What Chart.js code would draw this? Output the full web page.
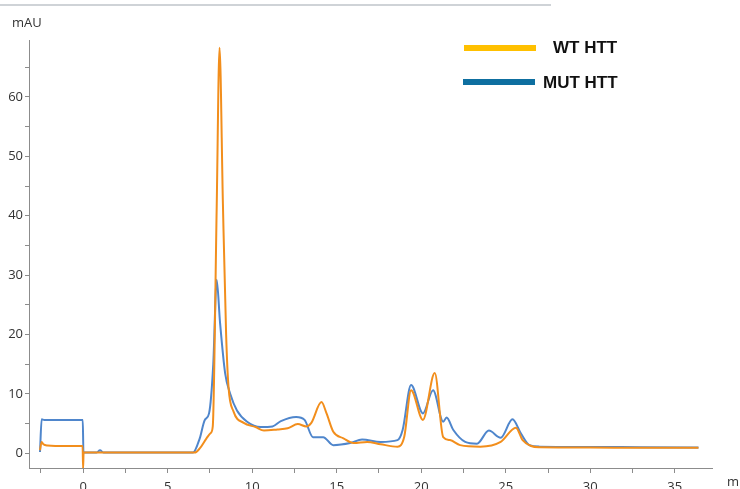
<!DOCTYPE html>
<html lang="en">
<head>
    <meta charset="UTF-8">
    <title>HTT chromatogram</title>
    <script src="https://cdn.jsdelivr.net/npm/chart.js"></script>
    <style>
        body { margin: 0; background: #fff; }
        .wrap { position: relative; width: 740px; height: 489px; overflow: hidden; }
        .topline { position: absolute; left: 0; top: 4px; width: 551px; height: 2px; background: #cfd3d7; }
        .unit { position: absolute; font-family: "Open Sans", sans-serif; font-size: 13px; color: #333; }
        .legend-line { position: absolute; height: 6px; }
        .legend-text { position: absolute; font-family: "Liberation Sans", Arial, sans-serif; font-weight: bold; font-size: 17px; color: #111; }
    </style>
</head>
<body>
    <div class="wrap">
        <canvas id="chart" width="740" height="489"></canvas>
        <div class="topline"></div>
        <div class="unit" style="left:12px; top:13px;">mAU</div>
        <div class="unit" style="left:727px; top:472px;">ml</div>
        <!-- Legend -->
        <div class="legend-line" style="left:464px; top:45px; width:72px; background:#ffc000;"></div>
        <div class="legend-text" style="left:553px; top:38px;">WT HTT</div>
        <div class="legend-line" style="left:463px; top:79px; width:72px; background:#0e6fa0;"></div>
        <div class="legend-text" style="left:543px; top:73px;">MUT HTT</div>
    </div>

    <script>
        // WT HTT trace (orange)
        const wtX = [-2.55, -2.45, -2.35, -2.1, -1, -0.03, 0, 0.03, 1, 3, 6.6, 6.9, 7.3, 7.55, 7.67, 7.9, 8.07, 8.27, 8.46, 8.6, 8.9, 9.5, 10.2, 10.7, 11.5, 12.1, 12.7, 13.2, 13.5, 14.1, 14.4, 14.8, 15.4, 16.0, 16.8, 17.6, 18.6, 19.0, 19.4, 20.1, 20.8, 21.3, 21.7, 22.3, 23.5, 24.7, 25.6, 26.0, 26.5, 27, 30, 33, 36.4];
        const wtY = [0.5, 1.9, 1.5, 1.3, 1.2, 1.2, -2.6, 0.1, 0.1, 0.1, 0.1, 0.8, 2.5, 3.4, 4.5, 41, 68.3, 42, 20, 11.2, 7.0, 5.1, 4.4, 3.8, 4.0, 4.2, 4.9, 4.5, 5.1, 8.6, 6.7, 3.6, 2.5, 1.7, 1.9, 1.5, 1.1, 2.8, 10.6, 5.6, 13.5, 2.7, 2.2, 1.35, 1.1, 1.9, 4.3, 2.2, 1.2, 1.0, 0.95, 0.9, 0.9];

        // MUT HTT trace (blue)
        const mutX = [-2.55, -2.45, -2.3, -1, -0.02, 0.02, 0.8, 1.0, 1.2, 3, 6.5, 6.9, 7.2, 7.45, 7.7, 7.9, 8.1, 8.4, 8.7, 9.1, 9.7, 10.5, 11.2, 11.7, 12.6, 13.1, 13.6, 14.2, 14.8, 15.8, 16.5, 17.6, 18.6, 18.9, 19.4, 20.1, 20.7, 21.3, 21.5, 21.9, 22.6, 23.3, 24.0, 24.7, 25.4, 25.9, 26.4, 27, 30, 33, 36.4];
        const mutY = [0.2, 5.7, 5.6, 5.6, 5.6, 0.1, 0.1, 0.5, 0.1, 0.1, 0.1, 2.5, 5.6, 6.7, 15, 29.2, 22, 13.5, 10, 7.2, 5.3, 4.4, 4.5, 5.4, 6.1, 5.6, 2.7, 2.7, 1.35, 1.7, 2.3, 1.9, 2.2, 3.9, 11.5, 6.7, 10.6, 5.3, 6.0, 3.9, 1.9, 1.6, 3.8, 2.6, 5.7, 3.3, 1.35, 1.1, 1.05, 1.0, 0.96];

        // Axis ticks
        const xTicks = [-2.5, 0, 2.5, 5, 7.5, 10, 12.5, 15, 17.5, 20, 22.5, 25, 27.5, 30, 32.5, 35];
        const yTicks = [0, 5, 10, 15, 20, 25, 30, 35, 40, 45, 50, 55, 60, 65];

        function toPoints(xs, ys) {
            return xs.map((x, i) => ({ x: x, y: ys[i] }));
        }

        const axisColor = '#8c8c8c';
        const tickFont = { family: '"Open Sans", sans-serif', size: 13 };

        new Chart(document.getElementById('chart'), {
            type: 'line',
            data: {
                datasets: [
                    {
                        label: 'WT HTT',
                        data: toPoints(wtX, wtY),
                        borderColor: '#f28e1c',
                        borderWidth: 2,
                        pointRadius: 0,
                        cubicInterpolationMode: 'monotone'
                    },
                    {
                        label: 'MUT HTT',
                        data: toPoints(mutX, mutY),
                        borderColor: '#4f86cc',
                        borderWidth: 2,
                        pointRadius: 0,
                        cubicInterpolationMode: 'monotone'
                    }
                ]
            },
            options: {
                responsive: false,
                animation: false,
                layout: { padding: { left: 0, right: 28, top: 40, bottom: 0 } },
                plugins: { legend: { display: false }, tooltip: { enabled: false } },
                scales: {
                    x: {
                        type: 'linear',
                        min: -3.2,
                        max: 37.2,
                        afterBuildTicks: s => { s.ticks = xTicks.map(v => ({ value: v })); },
                        afterFit: s => { s.height = 21; },
                        border: { color: axisColor, width: 1 },
                        grid: { drawOnChartArea: false, tickLength: 5, color: axisColor },
                        ticks: {
                            autoSkip: false,
                            maxRotation: 0,
                            padding: 6,
                            color: '#333',
                            font: tickFont,
                            callback: v => (v % 5 === 0 ? v : '')
                        }
                    },
                    y: {
                        min: -2.5,
                        max: 69.6,
                        afterBuildTicks: s => { s.ticks = yTicks.map(v => ({ value: v })); },
                        afterFit: s => { s.width = 29; },
                        border: { color: axisColor, width: 1 },
                        grid: { drawOnChartArea: false, tickLength: 4, color: axisColor },
                        ticks: {
                            autoSkip: false,
                            padding: 2,
                            color: '#333',
                            font: tickFont,
                            callback: v => (v % 10 === 0 ? v : '')
                        }
                    }
                }
            }
        });
    </script>
</body>
</html>
